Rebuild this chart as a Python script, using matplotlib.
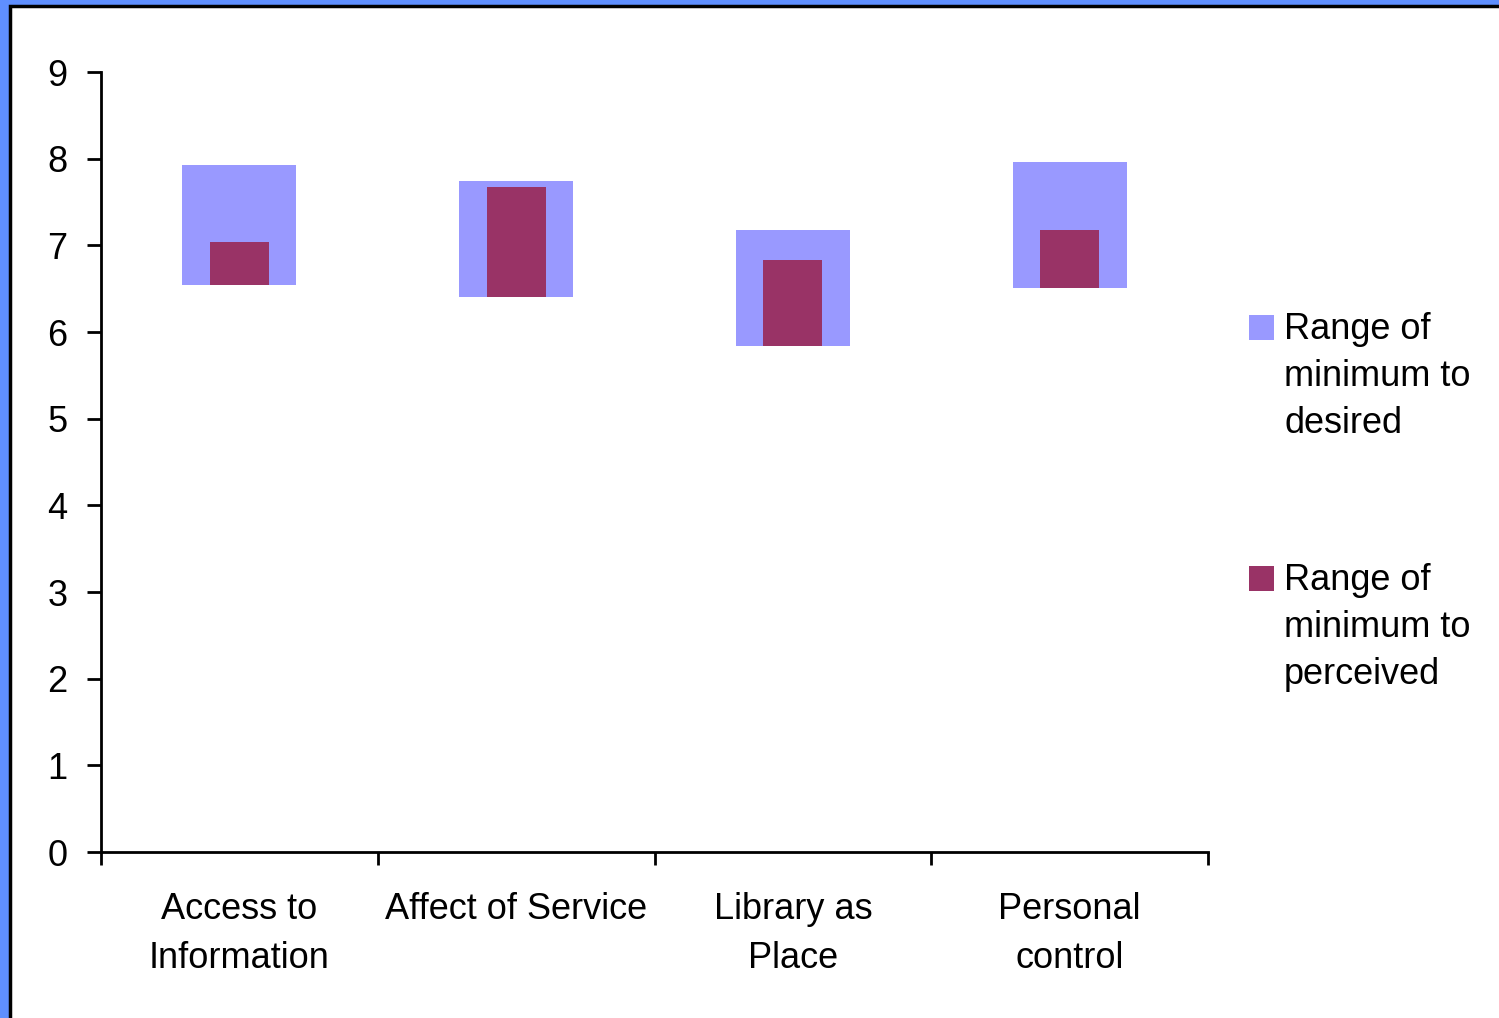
import numpy as np
import matplotlib
matplotlib.use("Agg")
import matplotlib.pyplot as plt
from matplotlib.patches import Rectangle

# data
categories = ["Access to\nInformation", "Affect of Service", "Library as\nPlace", "Personal\ncontrol"]
minimum = [6.54, 6.40, 5.84, 6.51]
desired = [7.93, 7.74, 7.18, 7.96]
perceived = [7.04, 7.67, 6.83, 7.18]
series_labels = ["Range of\nminimum to\ndesired", "Range of\nminimum to\nperceived"]
colors = ["#9999FF", "#993366"]

plt.rcParams["font.family"] = ["Liberation Sans", "DejaVu Sans"]

W, H = 1499, 1018
fig = plt.figure(figsize=(W / 100, H / 100), dpi=100)
fig.patch.set_facecolor("#5F8FFF")

# white slide area with black edge (blue frame shows at left and top)
fig.patches.append(Rectangle((9.5 / W, -0.05), 1.1, (H - 5.5) / H + 0.05,
                             transform=fig.transFigure, facecolor="white",
                             edgecolor="black", linewidth=2.5, zorder=-5))

ax = fig.add_axes([101 / W, (H - 852) / H, 1107 / W, 780 / H])
ax.set_facecolor("none")

x = np.arange(len(categories))
minimum = np.array(minimum)
ax.bar(x, np.array(desired) - minimum, bottom=minimum, width=0.412,
       color=colors[0], linewidth=0, zorder=2)
ax.bar(x, np.array(perceived) - minimum, bottom=minimum, width=0.213,
       color=colors[1], linewidth=0, zorder=3)

ax.set_xlim(-0.5, len(categories) - 0.5)
ax.set_ylim(0, 9)
ax.set_yticks(range(10))
ax.set_xticks(x)
ax.set_xticklabels(categories, fontsize=26, linespacing=1.5)
ax.set_xticks(np.arange(-0.5, len(categories)), minor=True)
ax.tick_params(axis="x", which="major", length=0, pad=29)
ax.tick_params(axis="x", which="minor", length=9, width=2, direction="out")
ax.tick_params(axis="y", length=10, width=2, pad=14, labelsize=26)

for s in ["top", "right"]:
    ax.spines[s].set_visible(False)
for s in ["left", "bottom"]:
    ax.spines[s].set_linewidth(2)

# legend drawn by hand so the square sits beside the first line
leg_y = [315, 566]
for lab, col, y0 in zip(series_labels, colors, leg_y):
    fig.patches.append(Rectangle((1249 / W, 1 - (y0 + 25) / H), 25 / W, 25 / H,
                                 transform=fig.transFigure, facecolor=col,
                                 linewidth=0))
    fig.text(1284 / W, 1 - (y0 - 3) / H, lab, fontsize=26, va="top", ha="left",
             linespacing=1.44)

fig.savefig("out.png", dpi=100)
